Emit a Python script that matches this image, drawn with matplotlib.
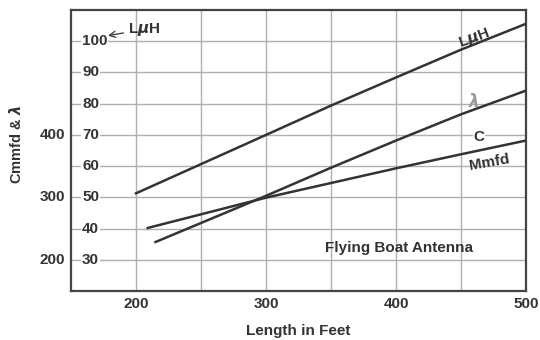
import matplotlib.pyplot as plt

# Data (length in feet vs inner scale value)
L_len = [200, 300, 350, 400, 450, 500]
L_val = [51.3, 70.0, 79.4, 88.4, 97.3, 105.6]

lam_len = [215, 300, 350, 400, 450, 500]
lam_val = [35.7, 50.5, 59.5, 68.2, 76.6, 84.2]

C_len = [209, 300, 350, 400, 450, 500]
C_val = [40.2, 49.9, 54.6, 59.3, 63.8, 68.2]

inner_ticks = [30, 40, 50, 60, 70, 80, 90, 100]
outer_ticks = [200, 300, 400]          # outer = inner * 5 + 50
x_ticks = [200, 300, 400, 500]
x_minor = [250, 350, 450]

ink = '#333333'
plt.rcParams['font.family'] = ['Liberation Sans', 'DejaVu Sans']
plt.rcParams['font.weight'] = 'bold'
plt.rcParams['axes.labelweight'] = 'bold'

fig = plt.figure(figsize=(5.4, 3.4), dpi=100)
ax = fig.add_axes([0.1315, 0.144, 0.8426, 0.8265])

ax.set_xlim(150, 500)
ax.set_ylim(20, 110)

ax.set_xticks(x_ticks)
ax.set_xticks(x_minor, minor=True)
ax.set_yticks(inner_ticks)
ax.set_yticklabels([])
ax.tick_params(length=0, which='both', labelsize=11, colors=ink, pad=4)
ax.grid(True, which='both', color='#b0b0b0', lw=1.0)
ax.set_axisbelow(True)
for s in ax.spines.values():
    s.set_color('#444444')
    s.set_linewidth(1.6)

# Curves
ax.plot(L_len, L_val, color=ink, lw=1.8, zorder=3)
ax.plot(lam_len, lam_val, color=ink, lw=1.8, zorder=3)
ax.plot(C_len, C_val, color=ink, lw=1.8, zorder=3)

# inner scale labels, drawn on the grid
for v in inner_ticks:
    ax.text(158.5, v, str(v), ha='left', va='center', fontsize=11, color=ink,
            bbox=dict(fc='white', ec='none', pad=0.5), zorder=2)

# outer scale labels
for v in outer_ticks:
    ax.text(-0.013, (v - 50) / 5, str(v), transform=ax.get_yaxis_transform(),
            ha='right', va='center', fontsize=11, color=ink)

ax.annotate('L$\\mu$H', xy=(178.5, 101.8), xytext=(193.5, 103.8), fontsize=11,
            color=ink, va='center', ha='left',
            arrowprops=dict(arrowstyle='->', color=ink, lw=0.9,
                            shrinkA=1, shrinkB=0))

# curve labels
ax.text(460.5, 101.0, 'L$\\mu$H', fontsize=11, color=ink, rotation=20,
        ha='center', va='center')
ax.text(459.5, 80.8, '$\\lambda$', fontsize=12, color='#9a9a9a',
        fontweight='normal', ha='center', va='center')
ax.text(464, 69.2, 'C', fontsize=11, color=ink, ha='center', va='center',
        bbox=dict(fc='white', ec='none', pad=0.3))
ax.text(472, 61.2, 'Mmfd', fontsize=11, color=ink, rotation=10,
        ha='center', va='center')

ax.text(402.5, 33.8, 'Flying Boat Antenna', fontsize=11, color=ink,
        ha='center', va='center')

ax.set_xlabel('Length in Feet', fontsize=11, color=ink, labelpad=10)
fig.text(16 / 540, 1 - 145 / 340, 'Cmmfd & $\\lambda$', rotation=90,
         fontsize=10.5, color=ink, ha='center', va='center')

fig.savefig('out.png', dpi=100)
